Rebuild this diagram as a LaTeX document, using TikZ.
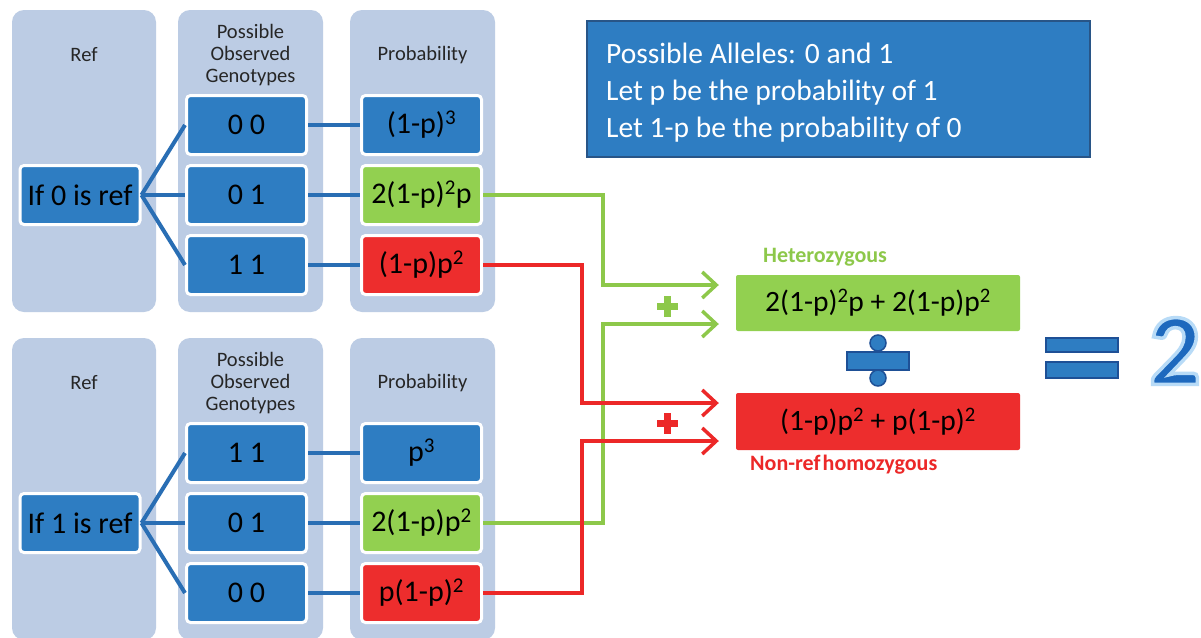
\documentclass[tikz,border=0pt]{standalone}
\usepackage{fontspec}
\setmainfont{Carlito}
\usetikzlibrary{arrows.meta,calc}
\definecolor{panel}{RGB}{188,204,228}
\definecolor{boxblue}{RGB}{46,125,194}
\definecolor{lineblue}{RGB}{41,110,180}
\definecolor{boxgreen}{RGB}{146,208,80}
\definecolor{boxred}{RGB}{237,45,45}
\definecolor{lgreen}{RGB}{141,200,74}
\definecolor{lred}{RGB}{236,40,40}
\definecolor{infoborder}{RGB}{40,85,135}
\definecolor{darkblue}{RGB}{30,80,150}
\definecolor{twoblue}{RGB}{30,105,190}
\tikzset{
  panelbg/.style={fill=panel, rounded corners=12pt},
  cellbox/.style={draw=white, line width=3pt, fill=boxblue, rounded corners=4pt,
    minimum width=120pt, minimum height=59pt, inner sep=0pt,
    font=\fontsize{30}{32}\selectfont},
  greencell/.style={cellbox, fill=boxgreen},
  redcell/.style={cellbox, fill=boxred},
  hdr/.style={font=\fontsize{20.5}{22}\selectfont, align=center, text=black!85},
  conn/.style={draw=lineblue, line width=4pt},
  gline/.style={draw=lgreen, line width=3.5pt, line join=miter},
  rline/.style={draw=lred, line width=3.5pt, line join=miter},
  garrow/.style={gline, -{Straight Barb[length=14pt,width=26pt,line width=3.5pt]}},
  rarrow/.style={rline, -{Straight Barb[length=14pt,width=26pt,line width=3.5pt]}},
  sumbox/.style={minimum width=284pt, minimum height=56pt, inner sep=0pt,
    rounded corners=2pt, font=\fontsize{29.5}{31}\selectfont},
  infotext/.style={anchor=base west, text=white, font=\fontsize{29.5}{34}\selectfont, inner sep=0pt},
  symb/.style={fill=boxblue, draw=darkblue, line width=1.5pt},
  lbl/.style={font=\fontsize{22}{24}\selectfont\bfseries, anchor=base west, inner sep=0pt},
}
\begin{document}
\begin{tikzpicture}[x=1pt,y=-1pt]
\useasboundingbox (0,0) rectangle (1201,637);
\clip (0,0) rectangle (1201,637);
\fill[white] (0,0) rectangle (1201,637);

% ---- panels ----
\foreach \yo in {0,328}{
  \fill[panelbg] (12,10+\yo) rectangle (156,312+\yo);
  \fill[panelbg] (178,10+\yo) rectangle (323,312+\yo);
  \fill[panelbg] (350,10+\yo) rectangle (495,312+\yo);
}
% ---- headers ----
\node[hdr] (hr1) at (84,55) {Ref};
\node[hdr] (hg1) at (250.5,55) {Possible\\Observed\\Genotypes};
\node[hdr] (hp1) at (422.5,55) {Probability};
\node[hdr] (hr2) at (84,383) {Ref};
\node[hdr] (hg2) at (250.5,383) {Possible\\Observed\\Genotypes};
\node[hdr] (hp2) at (422.5,383) {Probability};

% ---- top tree ----
\node[cellbox] (r0) at (80,195) {If 0 is ref};
\node[cellbox] (ga) at (246.5,125) {0 0};
\node[cellbox] (gb) at (246.5,195) {0 1};
\node[cellbox] (gc) at (246.5,265) {1 1};
\node[cellbox] (pa) at (421.5,125) {(1-p)\textsuperscript{3}};
\node[greencell] (pb) at (421.5,195) {2(1-p)\textsuperscript{2}p};
\node[redcell] (pc) at (421.5,265) {(1-p)p\textsuperscript{2}};
\foreach \g in {ga,gb,gc}{\draw[conn] (r0.east) -- (\g.west);}
\draw[conn] (ga.east) -- (pa.west);
\draw[conn] (gb.east) -- (pb.west);
\draw[conn] (gc.east) -- (pc.west);

% ---- bottom tree ----
\node[cellbox] (r1) at (80,523) {If 1 is ref};
\node[cellbox] (gd) at (246.5,453) {1 1};
\node[cellbox] (ge) at (246.5,523) {0 1};
\node[cellbox] (gf) at (246.5,593) {0 0};
\node[cellbox] (pd) at (421.5,453) {p\textsuperscript{3}};
\node[greencell] (pe) at (421.5,523) {2(1-p)p\textsuperscript{2}};
\node[redcell] (pf) at (421.5,593) {p(1-p)\textsuperscript{2}};
\foreach \g in {gd,ge,gf}{\draw[conn] (r1.east) -- (\g.west);}
\draw[conn] (gd.east) -- (pd.west);
\draw[conn] (ge.east) -- (pe.west);
\draw[conn] (gf.east) -- (pf.west);

% ---- info box ----
\draw[fill=boxblue, draw=infoborder, line width=2pt] (587,21) rectangle (1090,157);
\node[infotext] (i1) at (606,63) {Possible Alleles: 0 and 1};
\node[infotext] (i2) at (606,100) {Let p be the probability of 1};
\node[infotext] (i3) at (606,137) {Let 1-p be the probability of 0};

% ---- sum boxes ----
\node[sumbox, fill=boxgreen] (het) at (878,303) {2(1-p)\textsuperscript{2}p + 2(1-p)p\textsuperscript{2}};
\node[sumbox, fill=boxred, minimum height=57pt] (hom) at (878,421.5) {(1-p)p\textsuperscript{2} + p(1-p)\textsuperscript{2}};
\node[lbl, text=lgreen] (lhet) at (763,262) {Heterozygous};
\node[lbl, text=lred] (lhom) at (750,470) {Non-ref\hspace{0.1em}homozygous};

% ---- connectors ----
\coordinate (gx) at (603,0);
\coordinate (rx) at (582,0);
\draw[garrow, shorten >=17pt] (pb.east) -| (gx |- 0,285) -- (het.west |- 0,285);
\draw[garrow, shorten >=17pt] (pe.east) -| (gx |- 0,324) -- (het.west |- 0,324);
\draw[rarrow, shorten >=17pt] (pc.east) -| (rx |- 0,403) -- (hom.west |- 0,403);
\draw[rarrow, shorten >=17pt] (pf.east) -| (rx |- 0,441) -- (hom.west |- 0,441);

% ---- plus signs ----
\fill[lgreen] (657,303) rectangle (678,310);
\fill[lgreen] (664,296) rectangle (671,317);
\fill[lred] (657,420) rectangle (678,427);
\fill[lred] (664,413) rectangle (671,434);

% ---- divide ----
\draw[symb] (878,343) circle (8);
\draw[symb] (878,378) circle (8);
\draw[symb] (847,352) rectangle (909,370);

% ---- equals ----
\draw[symb] (1046,338) rectangle (1118,352);
\draw[symb] (1046,362) rectangle (1118,378);

% ---- big 2 (fill + light stroke for the glow) ----
\node[font=\fontsize{102}{102}\selectfont\bfseries, text=twoblue] (two) at (1175,351)
  {\special{pdf:literal direct 0.72 0.86 0.97 RG 2 Tr 3.5 w}2\special{pdf:literal direct 0 Tr 1 w}};
\end{tikzpicture}
\end{document}
